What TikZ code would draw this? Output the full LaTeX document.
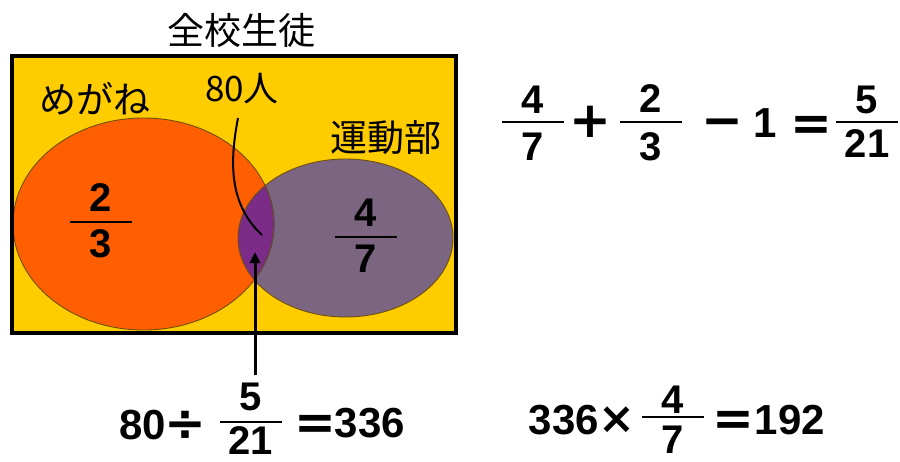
\documentclass[tikz,border=0pt]{standalone}
\usepackage{fontspec}
\usetikzlibrary{arrows.meta}
\newfontfamily\jpfont{Noto Sans CJK JP}
\newfontfamily\numfont{Liberation Sans}
\newfontfamily\opfont{DejaVu Sans}
\definecolor{bgyellow}{HTML}{FFCC00}
\definecolor{orangeset}{HTML}{FF5F00}
\definecolor{purpleset}{HTML}{7C6580}
\definecolor{overlapset}{HTML}{7B2C87}
\definecolor{edgebrown}{HTML}{6E5010}
\definecolor{edgeblue}{HTML}{3A2AA0}
\tikzset{
  fdig/.style={inner sep=0pt, font=\numfont\bfseries\fontsize{40}{40}\selectfont},
  mdig/.style={inner sep=0pt, font=\numfont\bfseries\fontsize{42}{42}\selectfont},
  opsym/.style={inner sep=0pt, font=\opfont\bfseries\fontsize{50}{50}\selectfont},
  jplabel/.style={inner sep=0pt, font=\jpfont\fontsize{37}{37}\selectfont},
  fracbar/.style={line width=2.5pt},
}
\newcommand\axisop[1]{\vphantom{+}#1}
% name, cx, bar y, num y, den y, num, den
\newcommand\myfrac[7]{%
  \node[fdig] (#1n) at (#2,#4) {#6};
  \node[fdig] (#1d) at (#2,#5) {#7};
  \draw[fracbar] (#2-31,#3) -- (#2+31,#3);
}
\begin{document}
\begin{tikzpicture}[x=1pt,y=-1pt]
\useasboundingbox (0,0) rectangle (900,461);
\fill[white] (0,0) rectangle (900,461);
% universe
\fill[bgyellow] (12,56) rectangle (456,333);
% sets
\fill[orangeset] (143.5,224) ellipse [x radius=130.5pt, y radius=106pt];
\fill[purpleset] (345.5,238) ellipse [x radius=107.5pt, y radius=79pt];
\begin{scope}
  \clip (345.5,238) ellipse [x radius=107.5pt, y radius=79pt];
  \fill[overlapset] (143.5,224) ellipse [x radius=130.5pt, y radius=106pt];
  \draw[edgeblue, line width=0.9pt] (143.5,224) ellipse [x radius=130.5pt, y radius=106pt];
\end{scope}
\begin{scope}
  \clip (0,0) rectangle (900,461) (345.5,238) ellipse [x radius=107.5pt, y radius=79pt];
  \draw[edgebrown, line width=0.9pt, even odd rule] (143.5,224) ellipse [x radius=130.5pt, y radius=106pt];
\end{scope}
\draw[edgebrown, line width=0.9pt] (345.5,238) ellipse [x radius=107.5pt, y radius=79pt];
\draw[line width=4pt] (12,56) rectangle (456,333);
% labels
\node[jplabel] (title) at (241.5,30) {全校生徒};
\node[jplabel] (glasses) at (95,99) {めがね};
\node[jplabel] (sports) at (386,138) {運動部};
\node[jplabel, font=\jpfont\fontsize{35}{35}\selectfont] (both) at (242,89) {80人};
% fractions in the sets
\myfrac{fo}{101}{222}{198}{244}{2}{3}
\myfrac{fp}{366}{237}{213}{259}{4}{7}
% pointer lines
\coordinate (curveS) at (238,118);
\coordinate (curveE) at (262,235);
\draw[line width=2pt] (curveS) .. controls (229,165) and (230,205) .. (curveE);
\coordinate (arrS) at (255,375);
\coordinate (arrT) at (255,252);
\draw[line width=3pt, -{Triangle[length=11pt,width=10pt]}] (arrS) -- (arrT);
% top equation
\myfrac{ta}{532.5}{122}{100}{147}{4}{7}
\node[opsym] (plus) at (590,122) {\axisop{+}};
\myfrac{tb}{651}{122}{99}{146.5}{2}{3}
\node[opsym] (minus) at (722,122) {\axisop{−}};
\node[mdig] (one) at (765.5,123) {1};
\node[opsym] (eqa) at (811.5,125) {\axisop{=}};
\myfrac{tc}{867}{122}{100}{144}{5}{21}
% bottom left equation
\node[mdig] (eighty) at (142.5,425) {80};
\node[opsym] (div) at (185,425) {\axisop{÷}};
\myfrac{bl}{251}{422}{397}{441}{5}{21}
\node[opsym] (eqb) at (315.5,424) {\axisop{=}};
\node[mdig] (res) at (370,423) {336};
% bottom right equation
\node[mdig] (tot) at (564,420) {336};
\node[opsym, font=\opfont\bfseries\fontsize{44}{44}\selectfont] (times) at (617,420) {\axisop{×}};
\myfrac{br}{672.5}{417}{400}{439.5}{4}{7}
\node[opsym] (eqc) at (733.5,420) {\axisop{=}};
\node[mdig] (ans) at (790,420) {192};
\end{tikzpicture}
\end{document}
